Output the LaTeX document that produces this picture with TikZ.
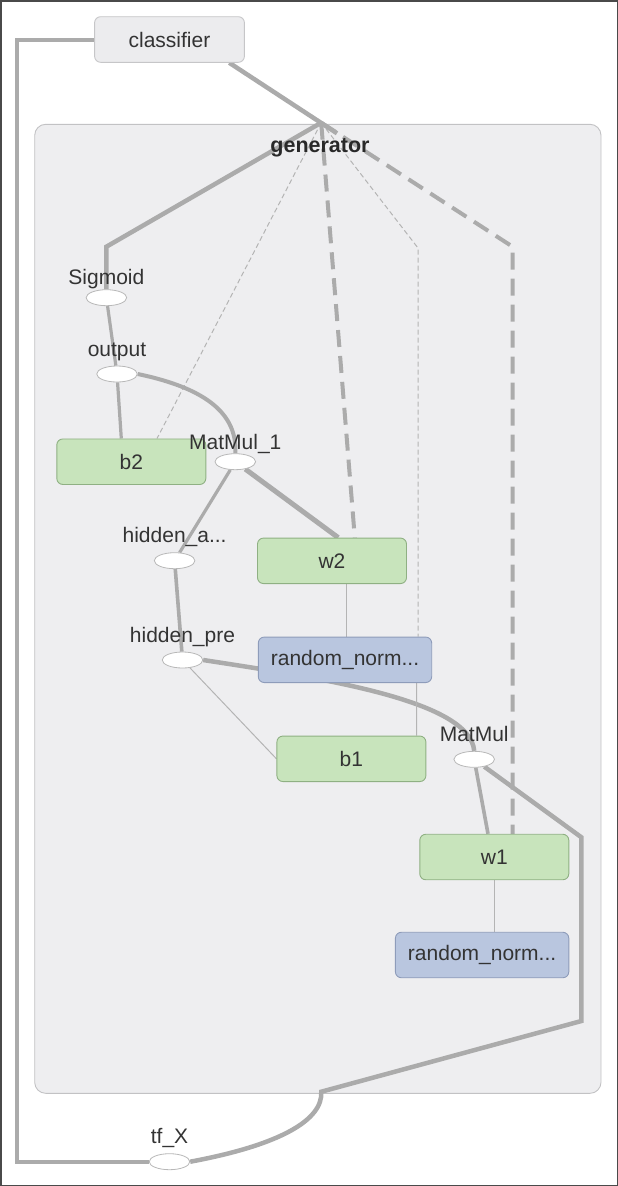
\documentclass[tikz,border=0pt]{standalone}
\usepackage{fontspec}
\setmainfont{Liberation Sans}
\usepackage{tikz}
\usetikzlibrary{calc, positioning, shapes.geometric}
\pgfdeclarelayer{bg}
\pgfdeclarelayer{edges}
\pgfsetlayers{bg,edges,main}
\definecolor{edgegray}{HTML}{ABABAB}
\definecolor{thingray}{HTML}{B4B4B4}
\definecolor{labeltext}{HTML}{333333}
\definecolor{clusterfill}{HTML}{EEEEF0}
\definecolor{clusterline}{HTML}{C2C2C4}
\definecolor{greyfill}{HTML}{ECECEE}
\definecolor{greyline}{HTML}{C6C6C8}
\definecolor{varfill}{HTML}{C8E4BC}
\definecolor{varline}{HTML}{8FB083}
\definecolor{randfill}{HTML}{B9C6DF}
\definecolor{randline}{HTML}{8E9CBA}
\definecolor{opline}{HTML}{B8B8B8}
\definecolor{framegray}{HTML}{4A4A4A}
\tikzset{
    txt/.style={text=labeltext, font=\fontsize{21}{25}\selectfont},
    opnode/.style={ellipse, draw=opline, fill=white, line width=0.8pt, minimum width=40.6pt, minimum height=16pt, inner sep=0pt},
    oplabel/.style={txt, anchor=base, inner sep=0pt},
    greybox/.style={txt, rectangle, rounded corners=6pt, draw=greyline, fill=greyfill, line width=0.9pt, minimum width=149.8pt, minimum height=45.6pt},
    varbox/.style={greybox, draw=varline, fill=varfill, minimum width=149pt, minimum height=45.5pt},
    randbox/.style={varbox, draw=randline, fill=randfill, minimum width=173.4pt},
    cluster/.style={draw=clusterline, fill=clusterfill, line width=0.9pt, rounded corners=11pt},
    thickedge/.style={draw=edgegray, line width=4.5pt},
    midedge/.style={draw=edgegray, line width=3.2pt},
    thinedge/.style={draw=thingray, line width=1pt},
    refedge/.style={draw=edgegray, line width=4pt, dash pattern=on 17pt off 9pt},
    ctrledge/.style={draw=thingray, line width=1pt, dash pattern=on 5pt off 3pt}
}
\newcommand{\opnode}[4]{
    \node[opnode] (#1) at (#2) {};
    \node[oplabel] (#1-l) at ($(#1) + (0, -#4)$) {#3};
}

\begin{document}
\begin{tikzpicture}[x=1pt, y=-1pt]
    \useasboundingbox (0, 0) rectangle (618, 1186);
    \draw[framegray, line width=1.5pt] (0.75, 0.75) rectangle (617.25, 1185.25);
    \begin{pgfonlayer}{bg}
        \draw[cluster] (34.7, 124.3) rectangle (601, 1093.3);
    \end{pgfonlayer}
    \node[text=labeltext!80!black, font=\fontsize{21.5}{26}\selectfont\bfseries] (gen) at (320, 147.7) {generator};
    \coordinate (gen-top) at (321.2, 122.7);
    \coordinate (gen-in) at (337, 133.3);

    \node[greybox] (classifier) at (169.5, 39.5) {classifier};
    \node[varbox] (b2) at (131.3, 461.7) {b2};
    \node[varbox] (w2) at (332, 560.8) {w2};
    \node[randbox] (rn1) at (345, 659.8) {random\_norm...};
    \node[varbox] (b1) at (351.4, 758.8) {b1};
    \node[varbox] (w1) at (494.3, 857) {w1};
    \node[randbox] (rn2) at (482.1, 955) {random\_norm...};

    \opnode{sig}{106.4, 297.7}{Sigmoid}{13.7}
    \opnode{out}{117, 374}{output}{18}
    \opnode{mm1}{235.3, 461.7}{MatMul\_1}{12.7}
    \opnode{hida}{174.6, 560.7}{hidden\_a...}{18.4}
    \opnode{hidp}{182.5, 660}{hidden\_pre}{17.7}
    \opnode{mm}{474.2, 759.3}{MatMul}{17.7}
    \opnode{tfx}{169.5, 1161.7}{tf\_X}{18.7}

    \begin{pgfonlayer}{edges}
        \draw[thickedge] ($(classifier.south east) + (-15.6, 0)$) -- (gen-in);
        \draw[thickedge, line width=4pt] (classifier.west) -- (16.5, 39.5) -- (16.5, 1161.7) -- (tfx.west);
        \draw[thickedge] (gen-top) -- (106.4, 246.7) -- (sig.north);
        \draw[ctrledge] (gen-top) -- ($(b2.north) + (25.7, 0)$);
        \draw[refedge] (gen-top) -- ($(w2.north) + (22.8, 0)$);
        \draw[ctrledge] (gen-top) -- (418, 248) -- ($(rn1.north) + (73, 0)$);
        \draw[refedge] (gen-top) -- (512.6, 246.7) -- ($(w1.north) + (18.3, 0)$);
        \draw[midedge] (sig) -- (out);
        \draw[midedge] (out) -- ($(b2.north) + (-10, 0)$);
        \draw[thickedge, line width=4pt] (out.east) .. controls (195, 386) and (238, 408) .. (mm1.north);
        \draw[midedge] (mm1) -- (hida);
        \draw[thickedge, line width=5pt] (mm1) -- ($(w2.north) + (6.2, 0)$);
        \draw[midedge, line width=3.6pt] (hida) -- (hidp);
        \draw[thickedge] (hidp.east) .. controls (320, 678) and (470, 700) .. (mm.north);
        \draw[thinedge] (hidp) -- (b1.west);
        \draw[thinedge] ($(w2.south) + (14.9, 0)$) -- ($(rn1.north) + (1.9, 0)$);
        \draw[thinedge] ($(rn1.south) + (71.6, 0)$) -- ($(b1.north) + (65.2, 0)$);
        \draw[midedge, line width=3.6pt] (mm) -- ($(w1.north) + (-6.3, 0)$);
        \draw[thickedge] (mm) -- (581.4, 837.3) -- (581.4, 1021) -- (321.3, 1091.7) .. controls (323, 1120) and (280, 1145) .. (tfx.east);
        \draw[thinedge] (w1.south) -- (w1.south |- rn2.north);
    \end{pgfonlayer}
\end{tikzpicture}
\end{document}
